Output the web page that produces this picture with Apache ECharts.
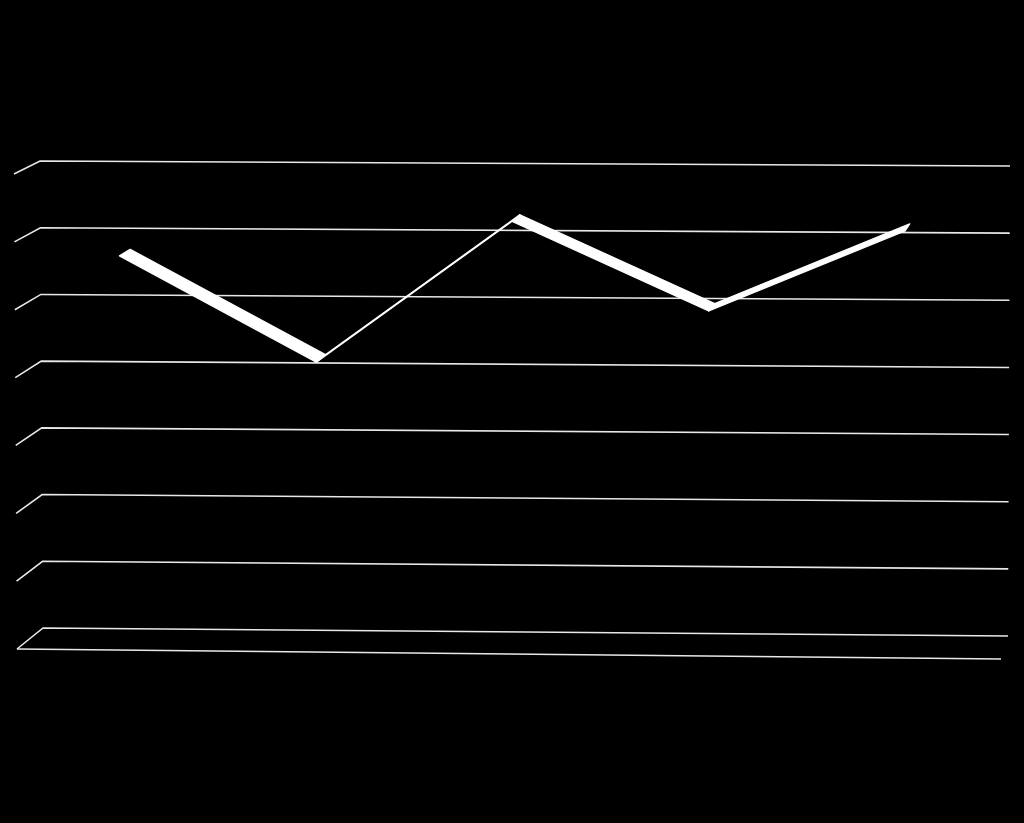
<!DOCTYPE html>
<html style="height: 100%">
<head>
    <meta charset="utf-8">
    <script src="https://cdn.jsdelivr.net/npm/echarts@6/dist/echarts.min.js"></script>
</head>
<body style="height: 100%; margin: 0; background: #000">
    <div id="main" style="width: 1024px; height: 823px"></div>
    <script type="text/javascript">
        // data (no labels are shown on the chart)
        var categories = ['1', '2', '3', '4', '5'];
        var values = [5.75, 4.2, 6.3, 5.0, 6.2];
        var gridValues = [0, 1, 2, 3, 4, 5, 6, 7];

        // 3d look: back wall + front plane corners (bottom = 0, top = max)
        var view = {
            back:  { l0: [43, 628], r0: [1008, 636], l1: [40, 161], r1: [1010, 166] },
            front: { l0: [17, 649], r0: [1001, 659], l1: [14, 174], r1: [1001, 181] },
            ribbonFront: 0.26,
            ribbonBack: 0.7
        };

        function lerp(a, b, k) { return a + (b - a) * k; }

        function planePoint(pl, t, f) {
            var x0 = lerp(pl.l0[0], pl.r0[0], t), y0 = lerp(pl.l0[1], pl.r0[1], t);
            var x1 = lerp(pl.l1[0], pl.r1[0], t), y1 = lerp(pl.l1[1], pl.r1[1], t);
            return [lerp(x0, x1, f), lerp(y0, y1, f)];
        }

        // d = 0 front, d = 1 back wall
        function project(cs, pt, d) {
            var t = (pt[0] - cs.x) / cs.width;
            var f = (cs.y + cs.height - pt[1]) / cs.height;
            var fp = planePoint(view.front, t, f);
            var bp = planePoint(view.back, t, f);
            return [lerp(fp[0], bp[0], d), lerp(fp[1], bp[1], d)];
        }

        var chart = echarts.init(document.getElementById('main'));

        var wallData = gridValues.map(function (v) { return [0, v]; });
        var segData = [];
        for (var i = 0; i < values.length - 1; i++) {
            segData.push([i, values[i], i + 1, values[i + 1]]);
        }

        var lineStyle = { stroke: '#e8e8e8', lineWidth: 1.6, fill: null };

        var option = {
            backgroundColor: '#000',
            animation: false,
            grid: { left: 43, right: 16, top: 161, bottom: 195 },
            xAxis: [
                { type: 'category', data: categories, show: false, boundaryGap: true },
                { type: 'value', min: 0, max: 1, show: false }
            ],
            yAxis: { type: 'value', min: 0, max: 7, interval: 1, show: false },
            series: [
                {
                    type: 'custom',
                    xAxisIndex: 1,
                    silent: true,
                    clip: false,
                    data: wallData,
                    encode: { x: 0, y: 1 },
                    renderItem: function (params, api) {
                        var cs = params.coordSys;
                        var v = api.value(1);
                        var a = api.coord([0, v]);
                        var b = api.coord([1, v]);
                        var children = [
                            { type: 'polyline', shape: { points: [project(cs, a, 0), project(cs, a, 1), project(cs, b, 1)] }, style: lineStyle }
                        ];
                        if (v === 0) {
                            var p = project(cs, a, 0), q = project(cs, b, 0);
                            children.push({ type: 'line', shape: { x1: p[0], y1: p[1], x2: q[0], y2: q[1] }, style: lineStyle });
                        }
                        return { type: 'group', children: children };
                    }
                },
                {
                    type: 'custom',
                    xAxisIndex: 0,
                    silent: true,
                    clip: false,
                    data: segData,
                    encode: { x: [0, 2], y: [1, 3] },
                    renderItem: function (params, api) {
                        var cs = params.coordSys;
                        var a = api.coord([api.value(0), api.value(1)]);
                        var b = api.coord([api.value(2), api.value(3)]);
                        var pts = [
                            project(cs, a, view.ribbonFront),
                            project(cs, b, view.ribbonFront),
                            project(cs, b, view.ribbonBack),
                            project(cs, a, view.ribbonBack)
                        ];
                        return {
                            type: 'polygon',
                            shape: { points: pts },
                            style: { fill: '#fff', stroke: '#fff', lineWidth: 1.4, lineJoin: 'round' }
                        };
                    }
                }
            ]
        };

        chart.setOption(option);
    </script>
</body>
</html>
